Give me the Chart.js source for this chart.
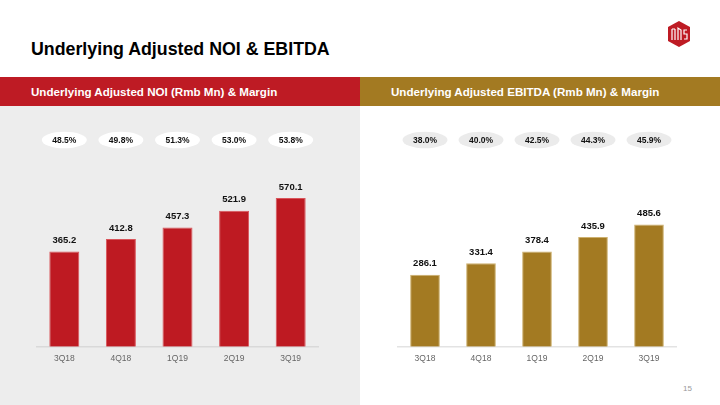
<!DOCTYPE html>
<html><head><meta charset="utf-8">
<script src="https://cdn.jsdelivr.net/npm/chart.js@4.4.1/dist/chart.umd.min.js"></script>
<style>
html,body{margin:0;padding:0;}
body{width:720px;height:405px;position:relative;overflow:hidden;background:#fff;font-family:"Liberation Sans",Arial,sans-serif;}
.title{position:absolute;left:31px;top:37px;font-size:17.8px;font-weight:bold;color:#000;line-height:24px;white-space:nowrap;}
.hdr{position:absolute;top:77px;height:29px;color:#fff;font-weight:bold;font-size:11.6px;line-height:30px;white-space:nowrap;box-sizing:border-box;padding-left:31px;}
#hl{left:0;width:360px;background:#BE1B24;}
#hr{left:360px;width:360px;background:#A37A22;}
#gray{position:absolute;left:0;top:106px;width:360px;height:299px;background:#EDEDED;}
.cw{position:absolute;top:94px;height:269px;}
#cl{left:36px;width:283px;}
#cr{left:397px;width:280px;}
.pg{position:absolute;left:683px;top:384px;font-size:8px;color:#999;}
#logo{position:absolute;left:666px;top:20px;}
</style>
</head><body>
<div class="title">Underlying Adjusted NOI &amp; EBITDA</div>
<svg id="logo" width="26" height="28" viewBox="0 0 26 28">
  <polygon points="13,1 24,7 24,21 13,27 2,21 2,7" fill="#BE1B24"/>
  <path d="M6,9 L6,20 M9,9 L9,20 M6,9 L9,9" stroke="#fff" stroke-width="1.2" fill="none"/>
  <path d="M12,20 L12,8 L15,10 L15,20" stroke="#fff" stroke-width="1.2" fill="none"/>
  <path d="M21,10 L18,10 L18,14 L21,14 L21,19 L18,19" stroke="#fff" stroke-width="1.2" fill="none"/>
</svg>
<div class="hdr" id="hl">Underlying Adjusted NOI (Rmb Mn) &amp; Margin</div>
<div class="hdr" id="hr">Underlying Adjusted EBITDA (Rmb Mn) &amp; Margin</div>
<div id="gray"></div>
<div class="cw" id="cl"><canvas id="c1"></canvas></div>
<div class="cw" id="cr"><canvas id="c2"></canvas></div>
<div class="pg">15</div>
<script>
const categories = ['3Q18','4Q18','1Q19','2Q19','3Q19'];
const noiValues = [365.2, 412.8, 457.3, 521.9, 570.1];
const noiMargins = ['48.5%','49.8%','51.3%','53.0%','53.8%'];
const ebitdaValues = [286.1, 331.4, 378.4, 435.9, 485.6];
const ebitdaMargins = ['38.0%','40.0%','42.5%','44.3%','45.9%'];

const FONT = '"Liberation Sans", Arial, sans-serif';

const annot = {
  id: 'annot',
  afterDatasetsDraw(chart, args, opts) {
    const ctx = chart.ctx;
    const meta = chart.getDatasetMeta(0);
    const data = chart.data.datasets[0].data;
    ctx.save();
    ctx.textAlign = 'center';
    ctx.textBaseline = 'middle';
    meta.data.forEach((bar, i) => {
      const x = bar.x;
      ctx.fillStyle = '#111';
      ctx.font = 'bold 9.5px ' + FONT;
      ctx.fillText(data[i].toFixed(1), x, bar.y - 11);
      const py = opts.pillY;
      ctx.beginPath();
      ctx.ellipse(x, py, 22.5, 8.3, 0, 0, Math.PI * 2);
      ctx.fillStyle = opts.pillColor;
      ctx.fill();
      ctx.fillStyle = '#111';
      ctx.font = 'bold 8.5px ' + FONT;
      ctx.fillText(opts.margins[i], x, py + 0.5);
    });
    ctx.restore();
  }
};

function makeChart(id, values, margins, color, border, yMax, pillColor, axisColor) {
  return new Chart(document.getElementById(id), {
    type: 'bar',
    data: {
      labels: categories,
      datasets: [{
        data: values,
        backgroundColor: color,
        borderColor: border,
        borderWidth: 1,
        categoryPercentage: 1,
        barPercentage: 0.53
      }]
    },
    options: {
      responsive: true,
      maintainAspectRatio: false,
      animation: false,
      layout: { padding: 0 },
      plugins: {
        legend: { display: false },
        tooltip: { enabled: false },
        annot: { pillY: 46, pillColor: pillColor, margins: margins }
      },
      scales: {
        x: {
          grid: { display: false },
          border: { display: true, color: axisColor, width: 1.5 },
          ticks: { color: '#666', font: { family: FONT, size: 8.5 }, padding: -1 }
        },
        y: { display: false, min: 0, max: yMax }
      }
    },
    plugins: [annot]
  });
}

makeChart('c1', noiValues, noiMargins, '#BE1A22', '#D9545A', 969, '#FFFFFF', '#D9D9D9');
makeChart('c2', ebitdaValues, ebitdaMargins, '#A37A22', '#CDB06E', 1004, '#EBEBEB', '#E3E3E3');
</script>
</body></html>
